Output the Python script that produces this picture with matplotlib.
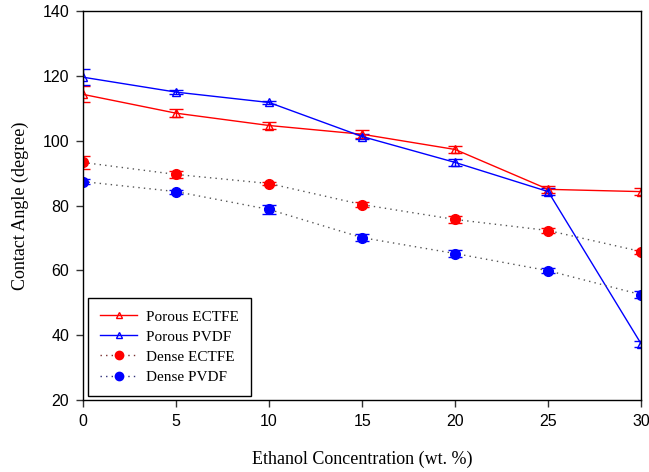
import matplotlib
matplotlib.use("Agg")
import matplotlib.pyplot as plt
from matplotlib.lines import Line2D

# Ethanol concentration (wt. %)
conc = [0, 5, 10, 15, 20, 25, 30]

# Contact angles (degree) with standard deviations
porous_ectfe = [114.3, 108.5, 104.7, 102.0, 97.3, 85.0, 84.3]
porous_ectfe_err = [2.5, 1.2, 1.2, 1.2, 1.0, 1.0, 1.0]
porous_pvdf = [119.6, 115.0, 111.8, 101.3, 93.3, 84.3, 37.3]
porous_pvdf_err = [2.5, 0.6, 0.6, 0.8, 1.0, 1.0, 1.0]
dense_ectfe = [93.3, 89.6, 86.8, 80.3, 75.7, 72.3, 65.8]
dense_ectfe_err = [2.0, 1.0, 0.6, 0.8, 1.2, 0.8, 0.6]
dense_pvdf = [87.4, 84.3, 78.8, 70.1, 65.2, 59.9, 52.5]
dense_pvdf_err = [0.8, 0.6, 1.5, 1.0, 1.0, 0.8, 1.0]

serif = "Liberation Serif"
sans = "Liberation Sans"
dots = (0, (1, 3))

fig = plt.figure(figsize=(6.49, 4.72), dpi=100)
ax = fig.add_axes([0.128, 0.1525, 0.86, 0.824])

common = dict(capsize=5, capthick=1.0, elinewidth=1.0, linewidth=1.0)
ax.errorbar(conc, porous_ectfe, yerr=porous_ectfe_err, color="red", marker="^",
            markersize=6, markerfacecolor="none", markeredgecolor="red",
            ecolor="red", **common)
ax.errorbar(conc, porous_pvdf, yerr=porous_pvdf_err, color="blue", marker="^",
            markersize=6, markerfacecolor="none", markeredgecolor="blue",
            ecolor="blue", **common)
ax.errorbar(conc, dense_ectfe, yerr=dense_ectfe_err, color="#555555", linestyle=dots,
            marker="o", markersize=7, markerfacecolor="red", markeredgecolor="red",
            ecolor="red", **common)
ax.errorbar(conc, dense_pvdf, yerr=dense_pvdf_err, color="#555555", linestyle=dots,
            marker="o", markersize=7, markerfacecolor="blue", markeredgecolor="blue",
            ecolor="blue", **common)

ax.set_xlim(0, 30)
ax.set_ylim(20, 140)
ax.set_xticks(conc)
ax.set_yticks(range(20, 141, 20))
ax.tick_params(direction="out", length=5, width=1, colors="#333333",
               labelsize=11.5, top=False, right=False, pad=5)
for lbl in ax.get_xticklabels() + ax.get_yticklabels():
    lbl.set_fontfamily(sans)
    lbl.set_color("black")
for s in ax.spines.values():
    s.set_color("black")
    s.set_linewidth(1.0)

ax.set_xlabel("Ethanol Concentration (wt. %)", fontfamily=serif, fontsize=13, labelpad=16)
ax.set_ylabel("Contact Angle (degree)", fontfamily=serif, fontsize=13)
ax.yaxis.set_label_coords(-0.097, 0.5)

handles = [
    Line2D([], [], color="red", marker="^", markersize=5, markerfacecolor="none",
           markeredgecolor="red", linewidth=1.0),
    Line2D([], [], color="blue", marker="^", markersize=5, markerfacecolor="none",
           markeredgecolor="blue", linewidth=1.0),
    Line2D([], [], color="#7a3030", linestyle=dots, marker="o", markersize=6,
           markerfacecolor="red", markeredgecolor="red", linewidth=1.0),
    Line2D([], [], color="#30307a", linestyle=dots, marker="o", markersize=6,
           markerfacecolor="blue", markeredgecolor="blue", linewidth=1.0),
]
labels = ["Porous ECTFE", "Porous PVDF", "Dense ECTFE", "Dense PVDF"]
leg = ax.legend(handles, labels, loc="lower left", bbox_to_anchor=(0.009, 0.01),
                prop={"family": serif, "size": 11},
                frameon=True, fancybox=False, edgecolor="black", framealpha=1,
                handlelength=2.4, handletextpad=0.6, borderpad=0.8, labelspacing=0.42,
                borderaxespad=0)
leg.get_frame().set_linewidth(1.0)

fig.savefig("out.png", dpi=100)
